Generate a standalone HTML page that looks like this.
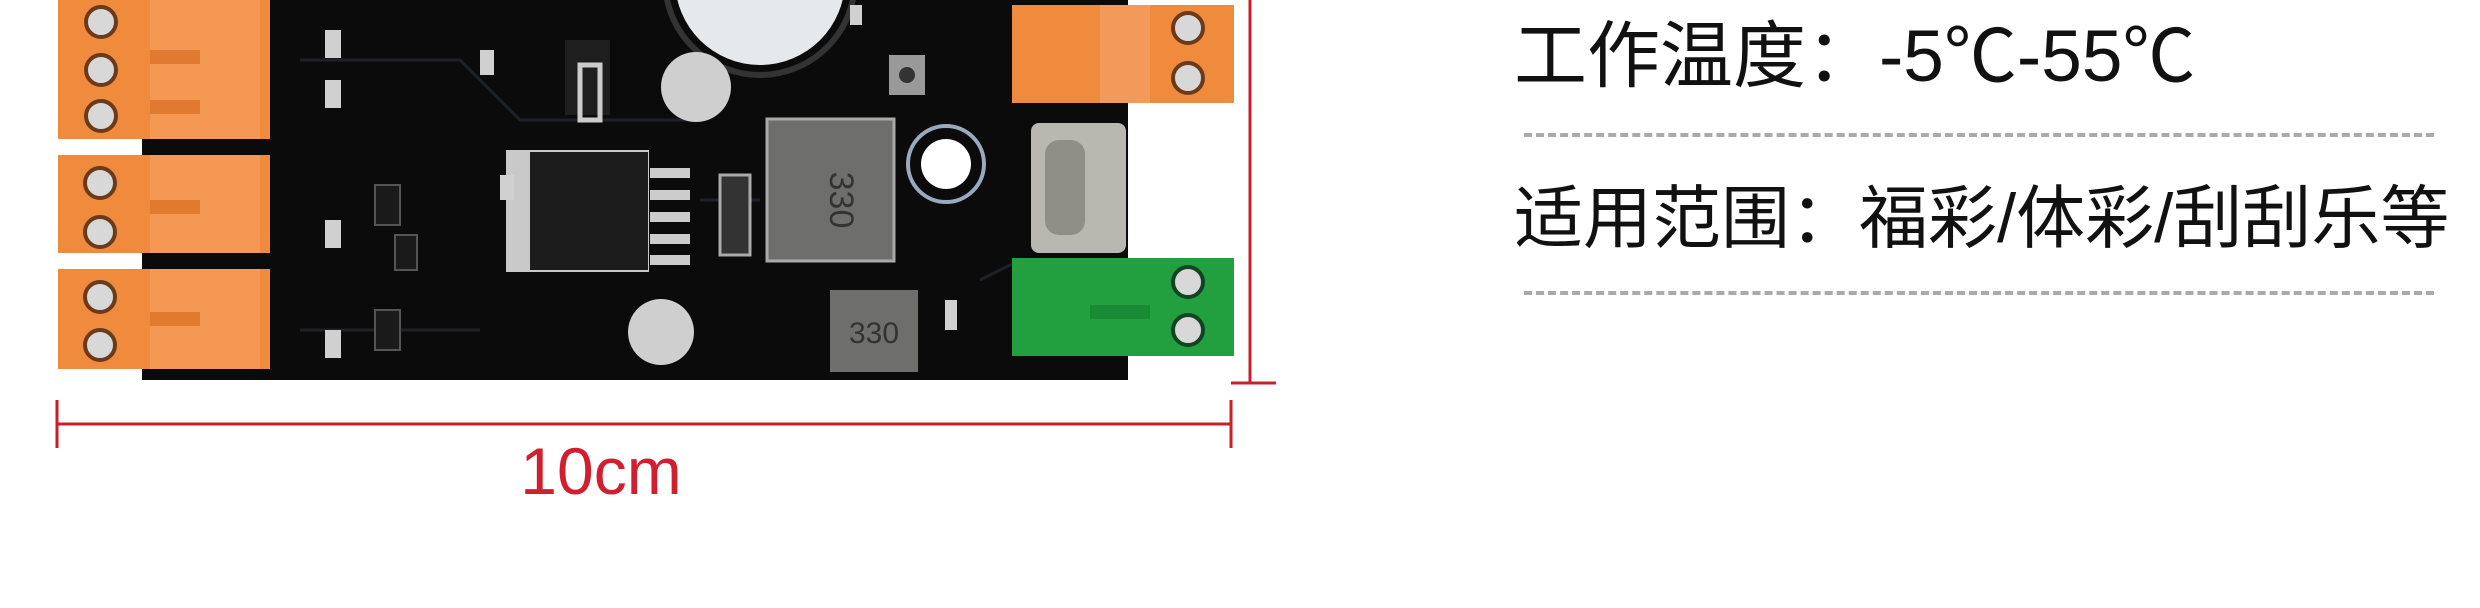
<!DOCTYPE html>
<html><head><meta charset="utf-8"><style>
html,body{margin:0;padding:0;background:#fff;width:2480px;height:608px;overflow:hidden;position:relative}
.t{position:absolute;left:1514px;font-family:"Liberation Sans","Noto Sans CJK SC",sans-serif;color:#111;white-space:nowrap;line-height:1}
.d{position:absolute;left:1524px;width:910px;height:0;border-top:4px dashed #aaa}
</style></head><body>
<svg width="2480" height="608" style="position:absolute;left:0;top:0">
<rect x="142" y="0" width="986" height="380" fill="#0b0b0b"/>
<g stroke="#1e2228" stroke-width="3" fill="none">
<path d="M300 60 L460 60 L520 120 L700 120"/><path d="M300 330 L480 330"/><path d="M700 200 L760 200"/><path d="M980 280 L1020 260"/>
</g>
<circle cx="760" cy="-20" r="85" fill="#e6e9ec"/><circle cx="760" cy="-20" r="95" fill="none" stroke="#333" stroke-width="6"/>
<g fill="#f08a3c">
<rect x="58" y="0" width="212" height="139"/>
<rect x="58" y="155" width="212" height="98"/>
<rect x="58" y="269" width="212" height="100"/>
</g>
<g fill="#f7a56a"><rect x="150" y="0" width="110" height="139" opacity=".5"/><rect x="150" y="155" width="110" height="98" opacity=".5"/><rect x="150" y="269" width="110" height="100" opacity=".5"/></g>
<g fill="#e07a30"><rect x="150" y="50" width="50" height="14"/><rect x="150" y="100" width="50" height="14"/><rect x="150" y="200" width="50" height="14"/><rect x="150" y="312" width="50" height="14"/></g>
<g fill="#d8d8d8" stroke="#6b3a1a" stroke-width="4">
<circle cx="101" cy="22" r="15"/><circle cx="101" cy="70" r="15"/><circle cx="101" cy="116" r="15"/>
<circle cx="100" cy="183" r="15"/><circle cx="100" cy="232" r="15"/>
<circle cx="100" cy="297" r="15"/><circle cx="100" cy="345" r="15"/>
</g>
<rect x="1012" y="5" width="222" height="98" fill="#f08a3c"/><rect x="1100" y="5" width="50" height="98" fill="#f7a56a" opacity=".6"/>
<g fill="#d8d8d8" stroke="#6b3a1a" stroke-width="4"><circle cx="1188" cy="28" r="15"/><circle cx="1188" cy="78" r="15"/></g>
<rect x="1012" y="258" width="222" height="98" fill="#22a040"/><rect x="1090" y="305" width="60" height="14" fill="#1a8a35"/>
<g fill="#d8d8d8" stroke="#114420" stroke-width="4"><circle cx="1188" cy="282" r="15"/><circle cx="1188" cy="330" r="15"/></g>
<rect x="1031" y="123" width="95" height="130" rx="8" fill="#b8b8b0"/><rect x="1045" y="140" width="40" height="95" rx="14" fill="#8f8f88"/>
<rect x="506" y="150" width="143" height="122" fill="#c9c9c9"/><rect x="530" y="152" width="118" height="118" fill="#1c1c1c"/>
<g fill="#ccc"><rect x="650" y="168" width="40" height="10"/><rect x="650" y="190" width="40" height="10"/><rect x="650" y="212" width="40" height="10"/><rect x="650" y="234" width="40" height="10"/><rect x="650" y="255" width="40" height="10"/></g>
<rect x="720" y="175" width="30" height="80" fill="#333" stroke="#aaa" stroke-width="3"/>
<rect x="767" y="119" width="127" height="142" fill="#6e6e6c" stroke="#aaa" stroke-width="3"/>
<text x="830" y="200" font-family="Liberation Sans" font-size="34" fill="#333" transform="rotate(90 830 200)" text-anchor="middle">330</text>
<rect x="830" y="290" width="88" height="82" fill="#6e6e6c"/>
<text x="874" y="343" font-family="Liberation Sans" font-size="30" fill="#333" text-anchor="middle">330</text>
<circle cx="946" cy="164" r="38" fill="none" stroke="#9ab" stroke-width="4"/><circle cx="946" cy="164" r="25" fill="#fff"/>
<circle cx="696" cy="87" r="35" fill="#cfcfcf"/><circle cx="661" cy="332" r="33" fill="#cfcfcf"/>
<rect x="889" y="55" width="36" height="40" fill="#999"/><circle cx="907" cy="75" r="8" fill="#333"/>
<rect x="565" y="40" width="45" height="75" fill="#1e1e1e"/><rect x="580" y="65" width="20" height="55" fill="none" stroke="#ccc" stroke-width="5"/>
<g fill="#d0d0d0"><rect x="325" y="30" width="16" height="28"/><rect x="325" y="80" width="16" height="28"/><rect x="325" y="220" width="16" height="28"/><rect x="325" y="330" width="16" height="28"/><rect x="480" y="50" width="14" height="25"/><rect x="500" y="175" width="14" height="25"/><rect x="850" y="5" width="12" height="20"/><rect x="945" y="300" width="12" height="30"/></g>
<g fill="#1a1a1a" stroke="#555" stroke-width="2"><rect x="375" y="185" width="25" height="40"/><rect x="375" y="310" width="25" height="40"/><rect x="395" y="235" width="22" height="35"/></g>
<g stroke="#c8202a" stroke-width="3">
<line x1="1250" y1="0" x2="1250" y2="384"/><line x1="1231" y1="383" x2="1276" y2="383"/>
<line x1="57" y1="424" x2="1231" y2="424"/><line x1="57" y1="400" x2="57" y2="448"/><line x1="1231" y1="400" x2="1231" y2="448"/>
</g>
<text x="601" y="494" font-family="Liberation Sans" font-size="66" fill="#d02030" text-anchor="middle">10cm</text>
</svg>
<div class="t" style="top:20px;font-size:73px">工作温度：-5℃-55℃</div>
<div class="d" style="top:133px"></div>
<div class="t" style="top:184px;font-size:69px">适用范围：福彩/体彩/刮刮乐等</div>
<div class="d" style="top:291px"></div>
</body></html>
